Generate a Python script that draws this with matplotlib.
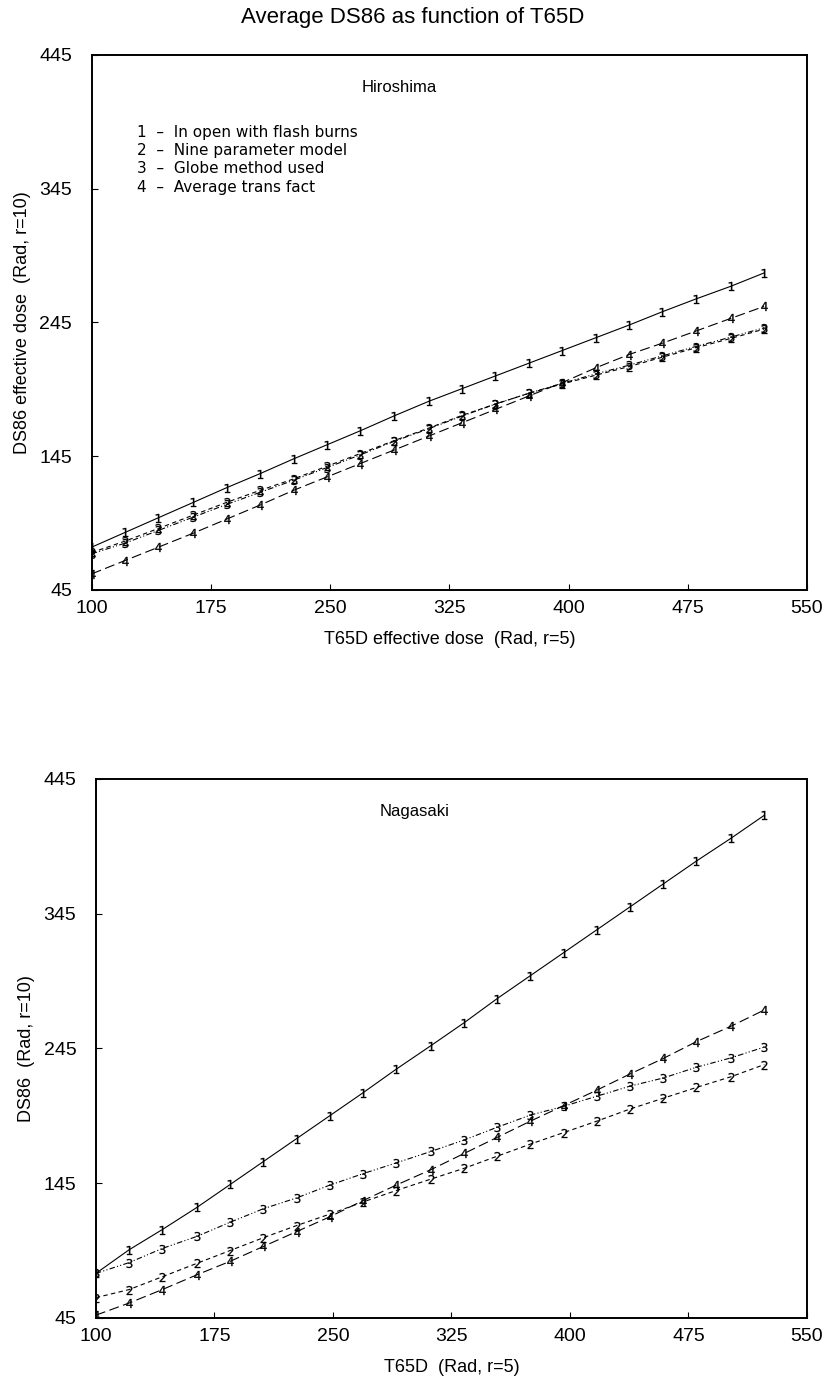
import matplotlib
matplotlib.use("Agg")
import matplotlib.pyplot as plt

# T65D dose at which the curves were evaluated
T65D = [100, 121, 142, 164, 185, 206, 227, 248, 269, 290, 312,
        333, 354, 375, 396, 417, 438, 459, 480, 502, 523]

# Hiroshima, DS86 effective dose
HIRO_1 = [77, 88, 99, 110.5, 121.5, 132, 143, 153.5, 164, 175, 186,
          195.5, 205, 214.5, 224, 233.5, 243, 253, 262.5, 272, 282]
HIRO_2 = [73, 81.5, 91, 101, 110.5, 119.5, 128, 137.5, 147, 156.5, 166,
          175.5, 184, 192, 199, 205.5, 212, 219, 226, 233, 240]
HIRO_3 = [72, 80, 89.5, 99.5, 109, 118, 127, 136.5, 146, 156, 165.5,
          175, 184, 192, 199.5, 206.5, 213, 220, 227, 234, 241]
HIRO_4 = [57, 67, 77, 87.5, 98, 108.5, 119.5, 129.5, 139.5, 149.5, 160,
          170, 180, 190, 200, 211, 221, 229.5, 238.5, 248, 257]

# Nagasaki, DS86
NAGA_1 = [78, 95.5, 110.5, 127, 144, 161, 178, 195, 212, 229.5, 247,
          264, 282, 299, 316, 333, 350, 367, 384, 401, 418]
NAGA_2 = [60, 66, 75.5, 85.5, 95, 104.5, 113.5, 122, 131, 139.5, 148,
          156, 165, 174, 182.5, 191, 200, 208, 216, 224, 233]
NAGA_3 = [78, 86, 96.5, 105.5, 116, 126, 134, 143.5, 152, 160, 168.5,
          177, 186.5, 195.5, 202, 209.5, 217, 223, 231, 238, 246]
NAGA_4 = [47, 56, 66, 77, 87, 98, 109, 120, 132, 143.5, 155,
          167, 179, 191, 202.5, 214, 226, 237.5, 250, 261.5, 273.5]

LEGEND = ["1  \u2013  In open with flash burns",
          "2  \u2013  Nine parameter model",
          "3  \u2013  Globe method used",
          "4  \u2013  Average trans fact"]

X_TICKS = [100, 175, 250, 325, 400, 475, 550]
Y_TICKS = [45, 145, 245, 345, 445]

STYLES = ["-", (0, (4, 3)), (0, (5, 2, 1, 2, 1, 2)), (0, (9, 4))]
FONT = ["Liberation Sans", "DejaVu Sans"]


def draw_panel(ax, series, name, name_x, xlabel, ylabel, legend=False):
    for i, ys in enumerate(series):
        ax.plot(T65D, ys, color="black", lw=0.8, ls=STYLES[i],
                marker="$%d$" % (i + 1), markersize=6.5, mew=0.2)
    ax.set_xlim(100, 550)
    ax.set_ylim(45, 445)
    ax.set_xticks(X_TICKS)
    ax.set_yticks(Y_TICKS)
    ax.tick_params(direction="in", length=4, width=0.8, labelsize=14)
    ax.tick_params(axis="y", pad=14)
    ax.tick_params(axis="x", pad=7)
    for lab in ax.get_xticklabels() + ax.get_yticklabels():
        lab.set_family(FONT)
    for s in ax.spines.values():
        s.set_linewidth(1.4)
    ax.set_xlabel(xlabel, fontsize=13, family=FONT, labelpad=10)
    ax.set_ylabel(ylabel, fontsize=13, family=FONT, labelpad=6)
    ax.text(name_x, 0.94, name, transform=ax.transAxes, ha="center",
            va="center", fontsize=12, family=FONT)
    if legend:
        for k, txt in enumerate(LEGEND):
            ax.text(0.063, 0.855 - k * 0.034, txt, transform=ax.transAxes,
                    ha="left", va="center", fontsize=11)


fig = plt.figure(figsize=(8.26, 13.8), dpi=100)
ax1 = fig.add_axes([0.111, 0.5725, 0.866, 0.3877])
ax2 = fig.add_axes([0.116, 0.045, 0.861, 0.3906])

draw_panel(ax1, [HIRO_1, HIRO_2, HIRO_3, HIRO_4], "Hiroshima", 0.43,
           "T65D effective dose  (Rad, r=5)", "DS86 effective dose  (Rad, r=10)",
           legend=True)
draw_panel(ax2, [NAGA_1, NAGA_2, NAGA_3, NAGA_4], "Nagasaki", 0.448,
           "T65D  (Rad, r=5)", "DS86  (Rad, r=10)")

fig.text(0.5, 1 - 18 / 1380, "Average DS86 as function of T65D", ha="center",
         va="center", fontsize=16, family=FONT)

fig.savefig("out.png", dpi=100)
